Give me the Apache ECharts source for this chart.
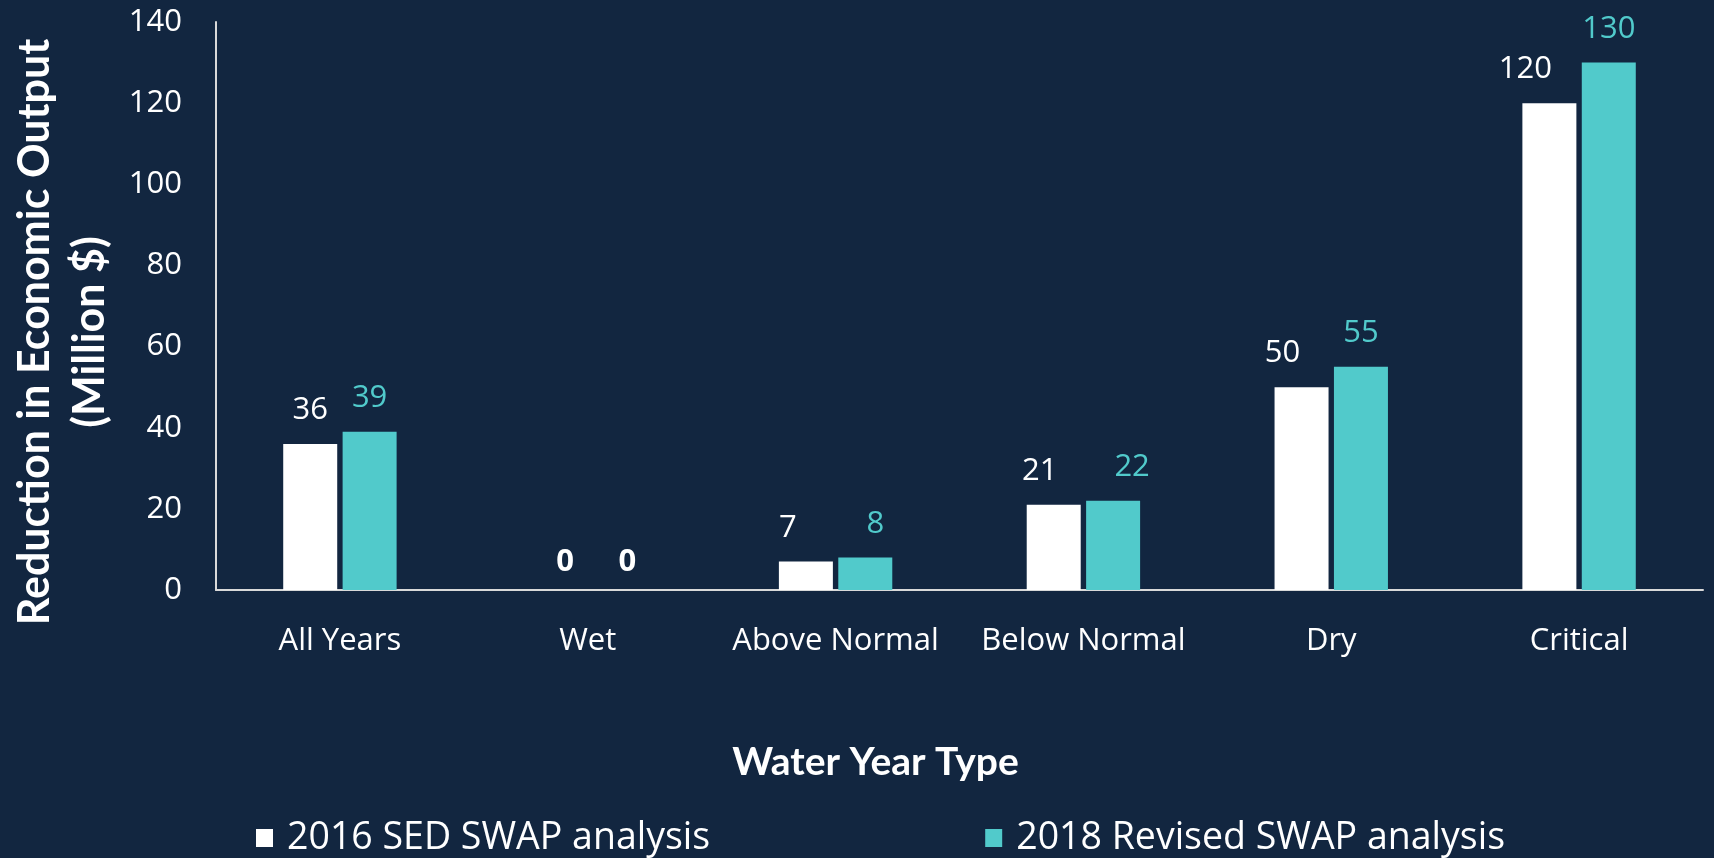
<!DOCTYPE html>
<html>
<head>
<meta charset="utf-8">
<script src="https://cdn.jsdelivr.net/npm/echarts@6/dist/echarts.min.js"></script>
<style>
  html, body { margin: 0; padding: 0; background: #122640; }
  #root1 { width: 1714px; height: 858px; }
</style>
</head>
<body>
<div id="root1"></div>
<script>
const categories = ['All Years', 'Wet', 'Above Normal', 'Below Normal', 'Dry', 'Critical'];
const sed2016 = [36, 0, 7, 21, 50, 120];
const revised2018 = [39, 0, 8, 22, 55, 130];
const yMin = 0;
const yMax = 140;
const yStep = 20;

const white = '#ffffff';
const teal = '#51cacb';
const bodyFont = '"Open Sans", "Noto Sans", sans-serif';
const titleFont = 'Lato, "Open Sans", sans-serif';

// hand nudges of the value labels, like the original slide
const sedShift = [0, 7, -18, -14, -19, -24];
const revShift = [0, 10, 10, 19, 0, 0];

function withLabels(values, shifts) {
  return values.map((v, i) => {
    const zero = v === 0;
    return {
      value: v,
      label: {
        offset: [shifts[i], zero ? 6 : 0],
        fontWeight: zero ? 'bold' : 'normal',
        color: zero ? white : undefined
      }
    };
  });
}

const chartDom = document.getElementById('root1');
const myChart = echarts.init(chartDom);

const option = {
  backgroundColor: '#122640',
  animation: false,
  grid: {
    left: 216,
    right: 11,
    top: 22,
    bottom: 268,
    outerBoundsMode: 'none'
  },
  legend: {
    left: 251,
    top: 813,
    itemWidth: 17,
    itemHeight: 18,
    itemGap: 275,
    icon: 'rect',
    textStyle: {
      color: white,
      fontFamily: bodyFont,
      fontSize: 37.5,
      lineHeight: 40,
      padding: [0, 0, 0, 9]
    },
    data: ['2016 SED SWAP analysis', '2018 Revised SWAP analysis']
  },
  xAxis: {
    type: 'category',
    data: categories,
    name: 'Water Year Type',
    nameLocation: 'middle',
    nameGap: 149,
    nameTextStyle: {
      color: white,
      fontFamily: titleFont,
      fontWeight: 'bold',
      fontSize: 39,
      lineHeight: 46,
      padding: [0, 168, 0, 0]
    },
    axisLine: { lineStyle: { color: '#d9d9d9', width: 2 } },
    axisTick: { show: false },
    axisLabel: {
      interval: 0,
      color: white,
      fontFamily: bodyFont,
      fontSize: 31,
      lineHeight: 40,
      margin: 31
    }
  },
  yAxis: {
    type: 'value',
    min: yMin,
    max: yMax,
    interval: yStep,
    name: 'Reduction in Economic Output\n(Million $)',
    nameLocation: 'middle',
    nameGap: 89,
    nameTextStyle: {
      color: white,
      fontFamily: titleFont,
      fontWeight: 'bold',
      fontSize: 43,
      lineHeight: 55,
      padding: [0, 52, 0, 0]
    },
    axisLine: { show: true, lineStyle: { color: '#d9d9d9', width: 2 } },
    axisTick: { show: false },
    splitLine: { show: false },
    axisLabel: {
      color: white,
      fontFamily: bodyFont,
      fontSize: 31,
      margin: 34
    }
  },
  series: [
    {
      name: '2016 SED SWAP analysis',
      type: 'bar',
      data: withLabels(sed2016, sedShift),
      barWidth: 54,
      barGap: '10%',
      itemStyle: { color: white },
      label: {
        show: true,
        position: 'top',
        distance: 18,
        color: white,
        fontFamily: bodyFont,
        fontSize: 31
      }
    },
    {
      name: '2018 Revised SWAP analysis',
      type: 'bar',
      data: withLabels(revised2018, revShift),
      barWidth: 54,
      barGap: '10%',
      itemStyle: { color: teal },
      label: {
        show: true,
        position: 'top',
        distance: 18,
        color: teal,
        fontFamily: bodyFont,
        fontSize: 31
      }
    }
  ]
};

myChart.setOption(option);
</script>
</body>
</html>
